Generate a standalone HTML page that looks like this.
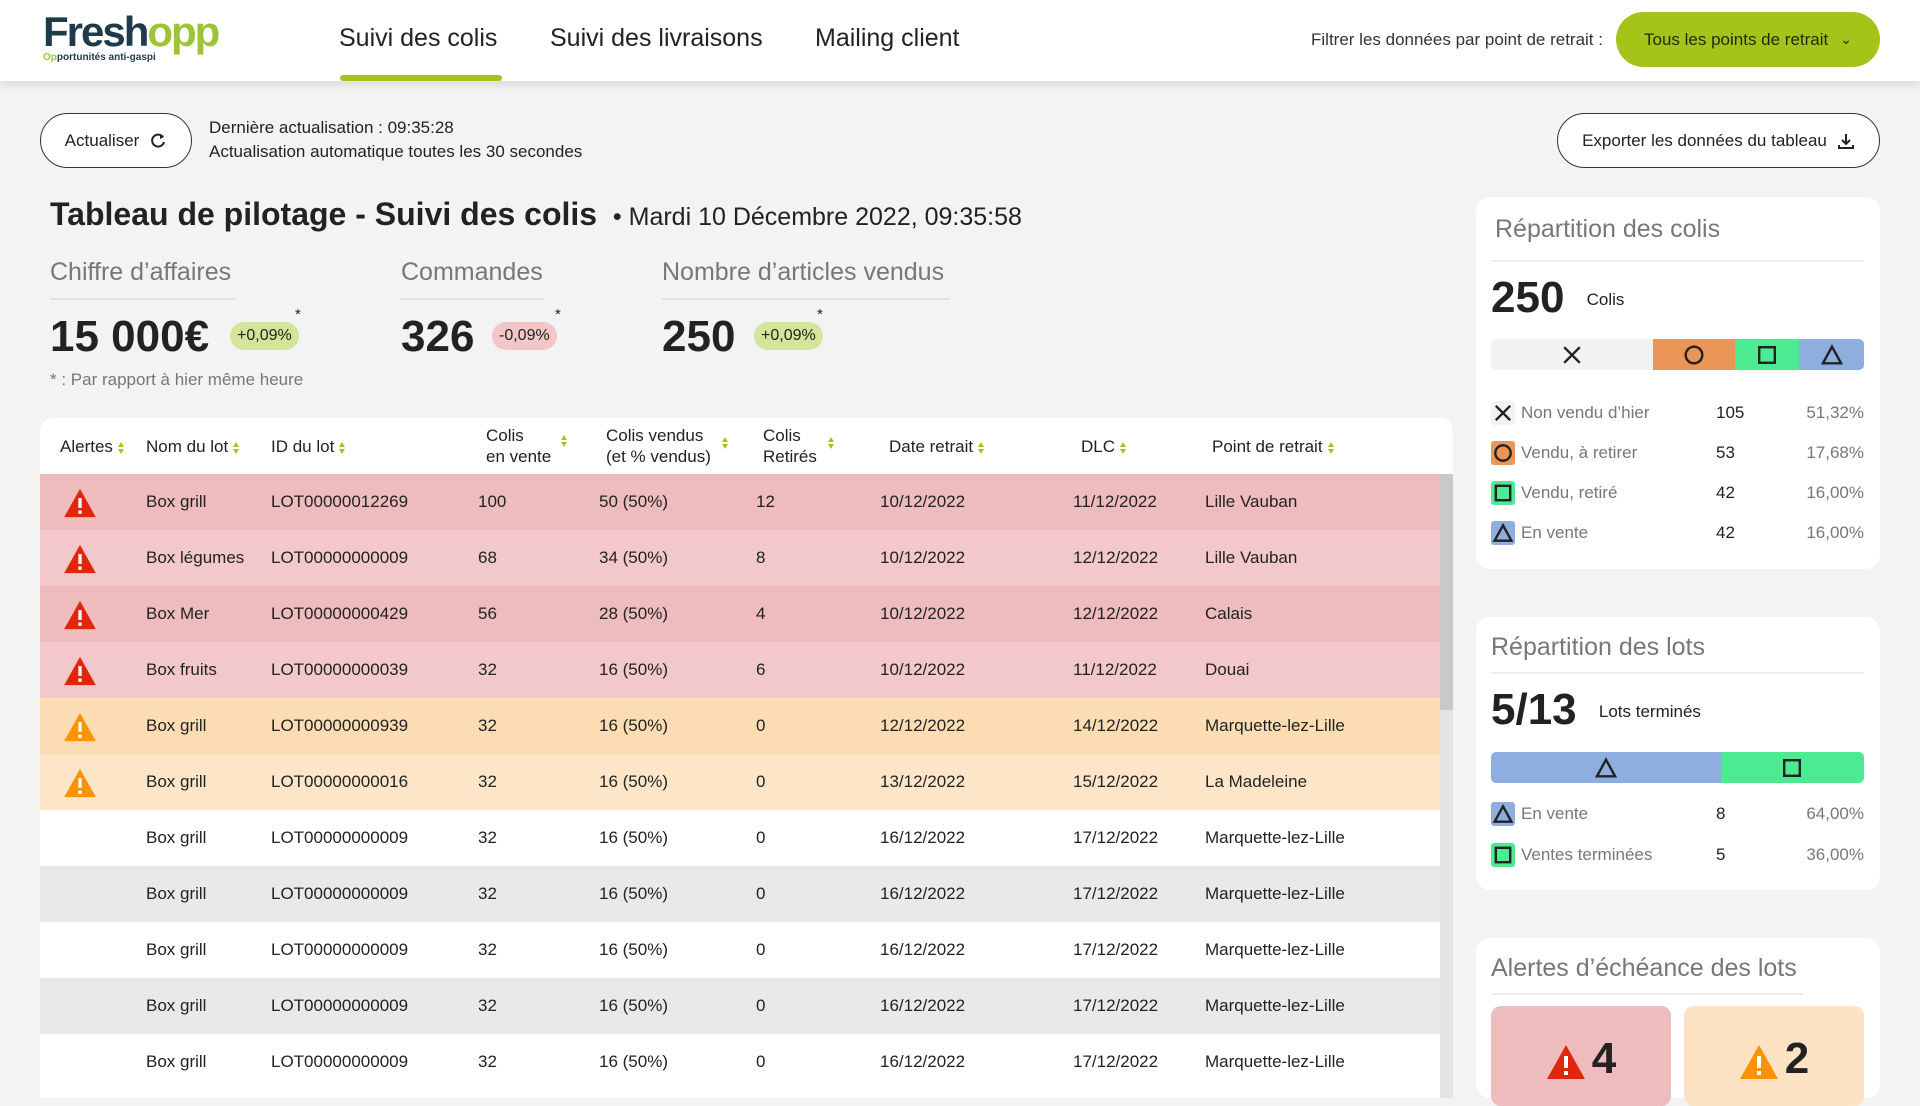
<!DOCTYPE html>
<html lang="fr"><head><meta charset="utf-8"><title>Freshopp – Suivi des colis</title>
<style>
*{box-sizing:border-box;margin:0;padding:0}
body{width:1920px;height:1080px;overflow:hidden;background:#f3f3f3;font-family:"Liberation Sans",sans-serif;color:#222;position:relative}
.abs{position:absolute;white-space:nowrap}
.header{position:absolute;left:0;top:0;width:1920px;height:81px;background:#fff;box-shadow:0 3px 10px rgba(0,0,0,.12)}
.nav{font-size:25px;color:#222;top:24px}
.btn{position:absolute;border:1.5px solid #333;border-radius:28px;background:#fff;font-size:17px;display:flex;align-items:center;justify-content:center;gap:10px}
.kl{font-size:25px;color:#777;top:258px}
.kline{position:absolute;height:2px;background:#e2e2e2;top:298px}
.kv{font-size:44px;font-weight:bold;top:312px}
.badge{position:absolute;top:322px;height:28px;border-radius:14px;font-size:16px;line-height:28px;padding:0 7px}
.star{position:absolute;top:306px;font-size:15px}
.table{position:absolute;left:40px;top:418px;width:1413px;height:680px;background:#fff;border-radius:12px 12px 0 0;overflow:hidden}
.th{position:absolute;font-size:17px;color:#222;line-height:21px}
.sort{display:inline-block;width:7px;height:12px;margin-left:5px;vertical-align:middle;position:relative}
.sort:before{content:"";position:absolute;left:0;top:0;border-left:3.5px solid transparent;border-right:3.5px solid transparent;border-bottom:5px solid #a5c41a}
.sort:after{content:"";position:absolute;left:0;bottom:0;border-left:3.5px solid transparent;border-right:3.5px solid transparent;border-top:5px solid #a5c41a}
.row{position:absolute;left:0;width:1400px;height:56px}
.cell{position:absolute;top:18px;font-size:17px;color:#222;white-space:nowrap}
.card{position:absolute;left:1476px;width:404px;background:#fff;border-radius:14px}
.ct{position:absolute;left:19px;font-size:25px;color:#777;white-space:nowrap}
.cline{position:absolute;left:15px;width:373px;height:2px;background:#eee}
.big{position:absolute;left:15px;font-size:44px;font-weight:bold;white-space:nowrap}
.leg{position:absolute;left:15px;width:373px;height:24px;font-size:17px}
.ico{position:absolute;left:0;top:0;width:24px;height:24px;border-radius:3px}
.bar{position:absolute;left:15px;width:373px;height:31px;border-radius:5px;overflow:hidden;display:flex}
.seg{height:100%;display:flex;align-items:center;justify-content:center}
</style></head><body>
<div class="header">
  <div class="abs" style="left:43px;top:10px;">
    <div style="font-size:42px;font-weight:bold;letter-spacing:-2px;line-height:44px"><span style="color:#1f3a4a">Fresh</span><span style="color:#9cc33a">opp</span></div>
    <div style="font-size:10px;font-weight:bold;color:#1f3a4a;margin-top:-2px"><span style="color:#9cc33a">Op</span>portunités anti-gaspi</div>
  </div>
  <div class="abs nav" style="left:339px">Suivi des colis</div>
  <div class="abs" style="left:340px;top:75px;width:162px;height:6px;background:#a5c41a;border-radius:3px"></div>
  <div class="abs nav" style="left:550px">Suivi des livraisons</div>
  <div class="abs nav" style="left:815px">Mailing client</div>
  <div class="abs" style="left:1311px;top:30px;font-size:17px;color:#333">Filtrer les données par point de retrait :</div>
  <div class="abs" style="left:1616px;top:12px;width:264px;height:55px;background:#a5c41a;border-radius:28px;font-size:17px;color:#1f2a10;display:flex;align-items:center;justify-content:center;gap:12px">Tous les points de retrait <span style="font-size:14px">&#8964;</span></div>
</div>

<div class="btn" style="left:40px;top:113px;width:152px;height:55px">Actualiser <svg width="18" height="18" viewBox="0 0 18 18"><path d="M14 5A6 6 0 1 0 15 10" fill="none" stroke="#222" stroke-width="2"/><path d="M11 2l4 3-4 2z" fill="#222"/></svg></div>
<div class="abs" style="left:209px;top:118px;font-size:17px">Dernière actualisation : 09:35:28</div>
<div class="abs" style="left:209px;top:142px;font-size:17px">Actualisation automatique toutes les 30 secondes</div>
<div class="btn" style="left:1557px;top:113px;width:323px;height:55px">Exporter les données du tableau <svg width="18" height="18" viewBox="0 0 18 18"><path d="M9 2v10M5 8l4 4 4-4M2 13v3h14v-3" fill="none" stroke="#222" stroke-width="2"/></svg></div>

<div class="abs" style="left:50px;top:196px;font-size:32px;font-weight:bold">Tableau de pilotage - Suivi des colis <span style="font-weight:normal;font-size:25px">&nbsp;•&nbsp;Mardi 10 Décembre 2022, 09:35:58</span></div>

<div class="abs kl" style="left:50px">Chiffre d’affaires</div>
<div class="kline" style="left:50px;width:186px"></div>
<div class="abs kv" style="left:50px">15 000€</div>
<div class="badge" style="left:230px;background:#d3e59a">+0,09%</div>
<div class="star" style="left:295px">*</div>

<div class="abs kl" style="left:401px">Commandes</div>
<div class="kline" style="left:401px;width:142px"></div>
<div class="abs kv" style="left:401px">326</div>
<div class="badge" style="left:492px;background:#f3c6c8">-0,09%</div>
<div class="star" style="left:555px">*</div>

<div class="abs kl" style="left:662px">Nombre d’articles vendus</div>
<div class="kline" style="left:662px;width:288px"></div>
<div class="abs kv" style="left:662px">250</div>
<div class="badge" style="left:754px;background:#d3e59a">+0,09%</div>
<div class="star" style="left:817px">*</div>

<div class="abs" style="left:50px;top:370px;font-size:17px;color:#777">* : Par rapport à hier même heure</div>

<div class="table">
  <div class="th" style="left:20px;top:18px">Alertes<span class="sort"></span></div>
  <div class="th" style="left:106px;top:18px">Nom du lot<span class="sort"></span></div>
  <div class="th" style="left:231px;top:18px">ID du lot<span class="sort"></span></div>
  <div class="th" style="left:446px;top:7px">Colis<br>en vente<span class="sort" style="position:absolute;left:70px;top:10px"></span></div>
  <div class="th" style="left:566px;top:7px">Colis vendus<br>(et % vendus)<span class="sort" style="position:absolute;left:111px;top:12px"></span></div>
  <div class="th" style="left:723px;top:7px">Colis<br>Retirés<span class="sort" style="position:absolute;left:60px;top:12px"></span></div>
  <div class="th" style="left:849px;top:18px">Date retrait<span class="sort"></span></div>
  <div class="th" style="left:1041px;top:18px">DLC<span class="sort"></span></div>
  <div class="th" style="left:1172px;top:18px">Point de retrait<span class="sort"></span></div>
  <div id="rows"></div>
  <div class="abs" style="left:1400px;top:56px;width:13px;height:640px;background:#e4e4e4"></div>
  <div class="abs" style="left:1400px;top:56px;width:13px;height:236px;background:#c9c9c9"></div>
</div>

<div class="card" style="top:197px;height:372px">
  <div class="ct" style="top:18px">Répartition des colis</div>
  <div class="cline" style="top:63px"></div>
  <div class="big" style="top:76px">250 <span style="font-size:17px;font-weight:normal;vertical-align:middle;margin-left:10px">Colis</span></div>
  <div class="bar" id="bar1" style="top:142px"></div>
  <div id="leg1"></div>
</div>

<div class="card" style="top:617px;height:273px">
  <div class="ct" style="top:16px;left:15px">Répartition des lots</div>
  <div class="cline" style="top:55px"></div>
  <div class="big" style="top:68px">5/13 <span style="font-size:17px;font-weight:normal;vertical-align:middle;margin-left:10px">Lots terminés</span></div>
  <div class="bar" id="bar2" style="top:135px"></div>
  <div id="leg2"></div>
</div>

<div class="card" style="top:938px;height:160px">
  <div class="ct" style="top:16px;left:15px">Alertes d’échéance des lots</div>
  <div class="cline" style="top:55px;width:312px"></div>
  <div class="abs" style="left:15px;top:68px;width:180px;height:100px;background:#efbcbe;border-radius:10px;display:flex;justify-content:center;padding-top:28px;gap:6px;font-size:44px;font-weight:bold"><svg width="40" height="36" viewBox="0 0 40 36" style="margin-top:10px"><path d="M20 1L39 35H1z" fill="#e0260d"/><rect x="18" y="12" width="4" height="12" fill="#fff"/><rect x="18" y="27" width="4" height="4" fill="#fff"/></svg>4</div>
  <div class="abs" style="left:208px;top:68px;width:180px;height:100px;background:#fde3c3;border-radius:10px;display:flex;justify-content:center;padding-top:28px;gap:6px;font-size:44px;font-weight:bold"><svg width="40" height="36" viewBox="0 0 40 36" style="margin-top:10px"><path d="M20 1L39 35H1z" fill="#fb9300"/><rect x="18" y="12" width="4" height="12" fill="#fff"/><rect x="18" y="27" width="4" height="4" fill="#fff"/></svg>2</div>
</div>

<script>
// Table data
const alerts=["red","red","red","red","orange","orange","","","","",""];
const names=["Box grill","Box légumes","Box Mer","Box fruits","Box grill","Box grill","Box grill","Box grill","Box grill","Box grill","Box grill"];
const ids=["LOT00000012269","LOT00000000009","LOT00000000429","LOT00000000039","LOT00000000939","LOT00000000016","LOT00000000009","LOT00000000009","LOT00000000009","LOT00000000009","LOT00000000009"];
const enVente=[100,68,56,32,32,32,32,32,32,32,32];
const vendus=[50,34,28,16,16,16,16,16,16,16,16];
const retires=[12,8,4,6,0,0,0,0,0,0,0];
const dates=["10/12/2022","10/12/2022","10/12/2022","10/12/2022","12/12/2022","13/12/2022","16/12/2022","16/12/2022","16/12/2022","16/12/2022","16/12/2022"];
const dlcs=["11/12/2022","12/12/2022","12/12/2022","11/12/2022","14/12/2022","15/12/2022","17/12/2022","17/12/2022","17/12/2022","17/12/2022","17/12/2022"];
const points=["Lille Vauban","Lille Vauban","Calais","Douai","Marquette-lez-Lille","La Madeleine","Marquette-lez-Lille","Marquette-lez-Lille","Marquette-lez-Lille","Marquette-lez-Lille","Marquette-lez-Lille"];
// Parcel breakdown
const parcelLabels=["Non vendu d’hier","Vendu, à retirer","Vendu, retiré","En vente"];
const parcelCounts=[105,53,42,42];
const parcelPcts=["51,32%","17,68%","16,00%","16,00%"];
const parcelKeys=["x","o","sq","tri"];
// Lot breakdown
const lotLabels=["En vente","Ventes terminées"];
const lotCounts=[8,5];
const lotPcts=["64,00%","36,00%"];
const lotKeys=["tri","sq"];

const colors={x:"#f2f2f2",o:"#eb9657",sq:"#4deb91",tri:"#8eaedf"};
function glyph(k,s){
  const st='fill="none" stroke="#222" stroke-width="2.4"';
  let g='';
  if(k==='x')g=`<path d="M${s*.2} ${s*.2}L${s*.8} ${s*.8}M${s*.8} ${s*.2}L${s*.2} ${s*.8}" ${st}/>`;
  if(k==='o')g=`<circle cx="${s/2}" cy="${s/2}" r="${s*.32}" ${st}/>`;
  if(k==='sq')g=`<rect x="${s*.2}" y="${s*.2}" width="${s*.6}" height="${s*.6}" ${st}/>`;
  if(k==='tri')g=`<path d="M${s/2} ${s*.18}L${s*.85} ${s*.82}H${s*.15}Z" ${st}/>`;
  return `<svg width="${s}" height="${s}" viewBox="0 0 ${s} ${s}">${g}</svg>`;
}
const rowsEl=document.getElementById('rows');
const bgs={red:["#efbcbe","#f2c8ca"],orange:["#fcdcb3","#fde6c8"],"":["#ffffff","#e9e9e9"]};
const colX=[146,271,478,599,756,880,1073,1205];
for(let i=0;i<names.length;i++){
  const r=document.createElement('div');
  r.className='row';
  
  
  r.style.top=(56+56*i)+'px';
  r.style.background=bgs[alerts[i]][i%2];
  let h='';
  if(alerts[i]){
    const c=alerts[i]==='red'?'#e0260d':'#fb9300';
    h+=`<svg style="position:absolute;left:23px;top:14px" width="34" height="30" viewBox="0 0 40 36"><path d="M20 1L39 35H1z" fill="${c}"/><rect x="18" y="12" width="4" height="12" fill="#fff"/><rect x="18" y="27" width="4" height="4" fill="#fff"/></svg>`;
  }
  const vals=[names[i],ids[i],enVente[i],vendus[i]+' ('+Math.round(vendus[i]/enVente[i]*100)+'%)',retires[i],dates[i],dlcs[i],points[i]];
  vals.forEach((v,j)=>{h+=`<div class="cell" style="left:${colX[j]-40}px">${v}</div>`;});
  r.innerHTML=h;
  rowsEl.appendChild(r);
}
function buildBar(id,counts,keys){
  const bar=document.getElementById(id);
  const tot=counts.reduce((a,b)=>a+b,0);
  counts.forEach((c,i)=>{
    const s=document.createElement('div');
    s.className='seg';
    
    
    s.style.width=(c/tot*100)+'%';
    s.style.background=colors[keys[i]];
    s.innerHTML=glyph(keys[i],26);
    bar.appendChild(s);
  });
}
function buildLegend(id,labels,counts,pcts,keys,top0,step){
  const el=document.getElementById(id);
  labels.forEach((l,i)=>{
    const d=document.createElement('div');
    d.className='leg';
    
    
    d.style.top=(top0+step*i)+'px';
    d.innerHTML=`<div class="ico" style="background:${colors[keys[i]]}">${glyph(keys[i],24)}</div><span style="position:absolute;left:30px;top:2px;color:#777">${l}</span><span style="position:absolute;left:225px;top:2px">${counts[i]}</span><span style="position:absolute;right:0;top:2px;color:#777">${pcts[i]}</span>`;
    el.appendChild(d);
  });
}
buildBar('bar1',parcelCounts,parcelKeys);
buildLegend('leg1',parcelLabels,parcelCounts,parcelPcts,parcelKeys,204,40);
buildBar('bar2',lotCounts,lotKeys);
buildLegend('leg2',lotLabels,lotCounts,lotPcts,lotKeys,185,41);
</script>
</body></html>
